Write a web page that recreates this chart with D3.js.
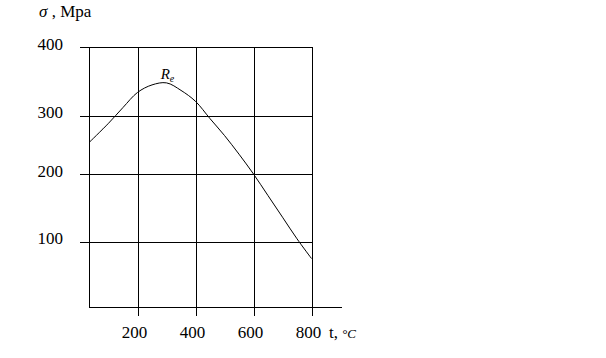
<!DOCTYPE html>
<html>
<head>
<meta charset="utf-8">
<script src="https://cdn.jsdelivr.net/npm/d3@7"></script>
<style>
  html, body { margin: 0; padding: 0; background: #fff; }
  svg { display: block; }
  svg text { font-family: "Liberation Serif", "Times New Roman", "DejaVu Serif", serif; fill: #000; }
</style>
</head>
<body>
<svg id="chart" width="606" height="358"></svg>
<script>
// ---- data ----
const tempC = [33, 100, 150, 200, 250, 300, 350, 400, 450, 500, 550, 600, 650, 700, 750, 800];
const sigma = [254, 287, 312, 334, 345, 348, 337, 321, 295, 266, 234, 200, 168, 136, 104, 74];
const xTicks = [200, 400, 600, 800];
const yTicks = [100, 200, 300, 400];
const xStart = 33;
const yTitle = "Mpa";
const xTitle = "t,";
const xUnit = "°C";
const curveLabel = "R";
const curveLabelSub = "e";

// ---- scales ----
const x = d3.scaleLinear().domain([0, 800]).range([79.5, 311.5]);
const y = d3.scaleLinear().domain([0, 100, 200, 300, 400]).range([307, 241.5, 174, 115.7, 47.3]);

const svg = d3.select("#chart");
const g = svg.append("g").attr("stroke", "#000").attr("stroke-width", 1).attr("shape-rendering", "crispEdges");
const r = v => Math.round(v) + 0.5;

// horizontal grid lines (with left tick stubs)
g.selectAll("line.h").data(yTicks).join("line")
  .attr("x1", r(x(xStart)) - 10).attr("x2", r(x(800)))
  .attr("y1", d => r(y(d))).attr("y2", d => r(y(d)));
// bottom axis line
g.append("line")
  .attr("x1", r(x(xStart))).attr("x2", r(x(800)) + 29)
  .attr("y1", r(y(0))).attr("y2", r(y(0)));
// left axis line
g.append("line")
  .attr("x1", r(x(xStart))).attr("x2", r(x(xStart)))
  .attr("y1", r(y(400))).attr("y2", r(y(0)));
// vertical grid lines with bottom tick stubs
g.selectAll("line.v").data(xTicks).join("line")
  .attr("x1", d => r(x(d))).attr("x2", d => r(x(d)))
  .attr("y1", r(y(400))).attr("y2", r(y(0)) + 8);

// curve
const pts = tempC.map((t, i) => [t, sigma[i]]);
svg.append("path")
  .datum(pts)
  .attr("fill", "none")
  .attr("stroke", "#000")
  .attr("stroke-width", 1)
  .attr("d", d3.line().x(d => x(d[0])).y(d => y(d[1])).curve(d3.curveCatmullRom.alpha(0.5)));

// y tick labels
svg.selectAll("text.yl").data(yTicks).join("text")
  .attr("x", 63).attr("y", d => y(d) + 2.5)
  .attr("text-anchor", "end")
  .attr("font-size", 17)
  .text(d => d);

// x tick labels
svg.selectAll("text.xl").data(xTicks).join("text")
  .attr("x", d => x(d) - 3).attr("y", 338)
  .attr("text-anchor", "middle")
  .attr("font-size", 17)
  .text(d => d);

// y title
const yt = svg.append("text").attr("x", 39).attr("y", 17).attr("font-size", 17);
yt.append("tspan").attr("font-style", "italic").text("σ");
yt.append("tspan").text(" , " + yTitle);

// x title
const xt = svg.append("text").attr("x", 329).attr("y", 338).attr("font-size", 17);
xt.append("tspan").text(xTitle);
xt.append("tspan").attr("dx", 4).attr("font-style", "italic").attr("font-size", 13).text(xUnit);

// curve label
const cl = svg.append("text").attr("x", x(280)).attr("y", 79).attr("font-size", 15).attr("font-style", "italic");
cl.append("tspan").text(curveLabel);
cl.append("tspan").attr("font-size", 10).attr("dy", 3).text(curveLabelSub);
</script>
</body>
</html>
